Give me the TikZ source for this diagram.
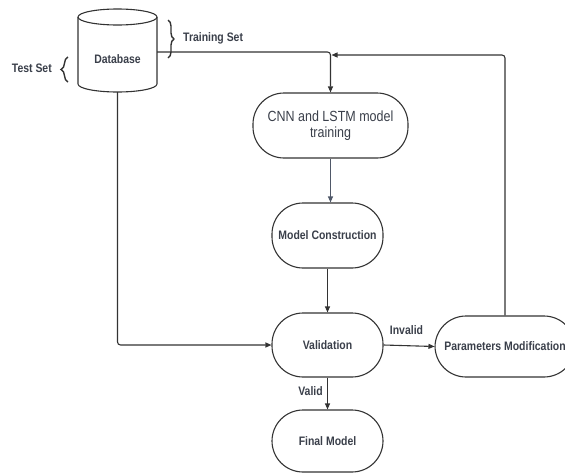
\documentclass[tikz,border=0pt]{standalone}
\usepackage{fontspec}
\setmainfont{Liberation Sans}
\newfontfamily\cond[FakeStretch=0.85]{Liberation Sans}
\usetikzlibrary{arrows.meta,decorations.pathreplacing}
\definecolor{ln}{HTML}{333333}
\definecolor{sl}{HTML}{4F5868}
\definecolor{tx}{HTML}{3A3F4A}
\begin{document}
\begin{tikzpicture}[x=1pt,y=1pt,
  term/.style={draw=ln,line width=1.1pt,rounded corners=31pt,align=center,text=tx,inner sep=0pt,
    font=\cond\fontsize{12.3}{14}\selectfont\bfseries},
  conn/.style={draw=ln,line width=1.1pt,rounded corners=3pt},
  arr/.style={conn,-{Triangle[length=6pt,width=5pt]}},
  lbl/.style={text=tx,font=\cond\fontsize{12.3}{14}\selectfont\bfseries,inner sep=0pt},
  brc/.style={draw=ln,line width=1.4pt,decorate}]
\useasboundingbox (0,0) rectangle (565,-472);
% database cylinder
\draw[ln,line width=1.1pt] (78,-17) -- (78,-84)
  arc[start angle=180,end angle=360,x radius=39.5pt,y radius=8pt] -- (157,-17);
\draw[ln,line width=1.1pt] (117.5,-17) ellipse [x radius=39.5pt,y radius=8pt];
\node[lbl] (db) at (117.5,-59) {Database};
\coordinate (dbR) at (157,-52);
\coordinate (dbB) at (117.5,-92);
% process nodes
\node[term,minimum width=155pt,minimum height=65pt,font=\cond\fontsize{14.7}{16.5}\selectfont] (cnn) at (330.5,-125.5) {CNN and LSTM model\\training};
\node[term,minimum width=111pt,minimum height=65pt] (mc) at (327.5,-235.5) {Model Construction};
\node[term,minimum width=111pt,minimum height=64pt] (val) at (327.5,-345) {Validation};
\node[term,minimum width=111pt,minimum height=62pt] (fin) at (327.5,-441) {Final Model};
\node[term,minimum width=140pt,minimum height=61pt] (pm) at (505,-346.5) {Parameters Modification};
% braces and labels
\draw[brc,decoration={brace,amplitude=6pt}] (168,-20) -- (168,-58);
\node[lbl,anchor=west] (trs) at (183,-38) {Training Set};
\draw[brc,decoration={brace,amplitude=7pt}] (68,-82) -- (68,-57);
\node[lbl,anchor=east] (tes) at (52,-68) {Test Set};
% connectors
\draw[arr] (dbR) -| (cnn.north);
\draw[arr] (dbB) |- (val.west);
\draw[arr,draw=sl] (cnn.south) -- (cnn.south |- mc.north);
\draw[arr] (mc.south) -- (val.north);
\draw[arr] (val.south) -- (fin.north);
\draw[arr] (val.east) -- (pm.west);
\coordinate (fb) at (331.5,-55);
\draw[arr] (pm.north) |- (fb);
\node[lbl] (inv) at (406.5,-330) {Invalid};
\node[lbl] (vd) at (310.5,-391) {Valid};
\end{tikzpicture}
\end{document}
